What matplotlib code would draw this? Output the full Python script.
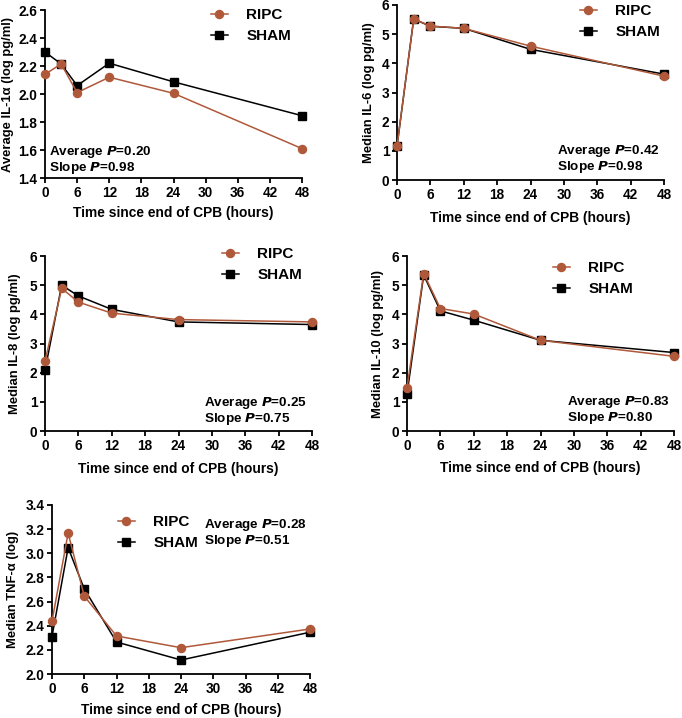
import matplotlib
matplotlib.use("Agg")
import matplotlib.pyplot as plt

plt.rcParams['font.family'] = ['Liberation Sans', 'DejaVu Sans']
plt.rcParams['font.weight'] = 'bold'
plt.rcParams['axes.labelweight'] = 'bold'

W, H = 682, 718
DPI = 100

hours = [0, 3, 6, 12, 24, 48]
xticks = [0, 6, 12, 18, 24, 30, 36, 42, 48]
series_names = ["RIPC", "SHAM"]

il1a_ripc = [2.14, 2.215, 2.01, 2.12, 2.005, 1.61]
il1a_sham = [2.30, 2.215, 2.06, 2.22, 2.087, 1.845]

il6_ripc = [1.16, 5.52, 5.28, 5.20, 4.59, 3.56]
il6_sham = [1.15, 5.52, 5.27, 5.20, 4.48, 3.63]

il8_ripc = [2.39, 4.89, 4.42, 4.04, 3.82, 3.74]
il8_sham = [2.08, 5.00, 4.63, 4.17, 3.74, 3.65]

il10_ripc = [1.48, 5.40, 4.20, 4.01, 3.11, 2.56]
il10_sham = [1.26, 5.35, 4.12, 3.80, 3.11, 2.69]

tnf_ripc = [2.437, 3.167, 2.645, 2.315, 2.218, 2.373]
tnf_sham = [2.31, 3.047, 2.705, 2.265, 2.116, 2.346]

ylabels = ["Average IL-1α (log pg/ml)", "Median IL-6 (log pg/ml)",
           "Median IL-8 (log pg/ml)", "Median IL-10 (log pg/ml)",
           "Median TNF-α (log)"]
avg_p = ["0.20", "0.42", "0.25", "0.83", "0.28"]
slope_p = ["0.98", "0.98", "0.75", "0.80", "0.51"]
xlabel = "Time since end of CPB (hours)"

RIPC_C = '#B0583A'
SHAM_C = '#000000'

fig = plt.figure(figsize=(W / DPI, H / DPI), dpi=DPI)

def fx(px):
    return px / W

def fy(py):
    return 1 - py / H

# panel geometry in pixels: left, right, top, bottom
panels = [
    dict(box=(45, 302, 10, 178), ylim=(1.4, 2.6), yt=[1.4, 1.6, 1.8, 2.0, 2.2, 2.4, 2.6], yfmt='{:.1f}',
         data=(il1a_ripc, il1a_sham), ylab_x=8, xlab_y=213,
         ann=(49, 152), leg=(211, 8)),
    dict(box=(397, 664, 5, 180), ylim=(0, 6), yt=[0, 1, 2, 3, 4, 5, 6], yfmt='{:d}',
         data=(il6_ripc, il6_sham), ylab_x=369, xlab_y=218,
         ann=(557, 151), leg=(580, 4)),
    dict(box=(45, 312, 256, 431), ylim=(0, 6), yt=[0, 1, 2, 3, 4, 5, 6], yfmt='{:d}',
         data=(il8_ripc, il8_sham), ylab_x=15, xlab_y=469,
         ann=(204, 403), leg=(222, 247)),
    dict(box=(407, 674, 256, 431), ylim=(0, 6), yt=[0, 1, 2, 3, 4, 5, 6], yfmt='{:d}',
         data=(il10_ripc, il10_sham), ylab_x=378, xlab_y=468,
         ann=(567, 402), leg=(553, 261)),
    dict(box=(52, 310, 505, 674), ylim=(2.0, 3.4), yt=[2.0, 2.2, 2.4, 2.6, 2.8, 3.0, 3.2, 3.4], yfmt='{:.1f}',
         data=(tnf_ripc, tnf_sham), ylab_x=13, xlab_y=710,
         ann=(204, 525), leg=(118, 515)),
]

for i, p in enumerate(panels):
    l, r, t, b = p['box']
    ax = fig.add_axes([fx(l), fy(b), (r - l) / W, (b - t) / H])
    ripc, sham = p['data']
    ax.plot(hours, sham, color=SHAM_C, lw=1.1, marker='s', ms=5.4,
            mec=SHAM_C, mfc=SHAM_C, clip_on=False, zorder=3, label=series_names[1])
    ax.plot(hours, ripc, color=RIPC_C, lw=1.1, marker='o', ms=5.8,
            mec=RIPC_C, mfc=RIPC_C, clip_on=False, zorder=4, label=series_names[0])
    ax.set_xlim(0, 48)
    ax.set_ylim(*p['ylim'])
    ax.set_xticks(xticks)
    ax.set_xticklabels([str(v) for v in xticks])
    ax.set_yticks(p['yt'])
    if p['yfmt'] == '{:d}':
        ax.set_yticklabels([str(int(v)) for v in p['yt']])
    else:
        ax.set_yticklabels([p['yfmt'].format(v) for v in p['yt']])
    for s in ['top', 'right']:
        ax.spines[s].set_visible(False)
    for s in ['left', 'bottom']:
        ax.spines[s].set_linewidth(1.3)
    ax.tick_params(axis='both', direction='out', length=3.5, width=1.3,
                   labelsize=9.8, pad=2)
    for lab in ax.get_xticklabels() + ax.get_yticklabels():
        lab.set_fontweight('bold')
    ax.set_ylabel(ylabels[i], fontsize=9.4, fontweight='bold')
    ax.yaxis.label.set_verticalalignment('center')
    ax.yaxis.set_label_coords(fx(p['ylab_x']), fy((t + b) / 2), transform=fig.transFigure)
    ax.set_xlabel(xlabel, fontsize=9.9, fontweight='bold')
    ax.xaxis.label.set_verticalalignment('center')
    ax.xaxis.set_label_coords(fx((l + r) / 2), fy(p['xlab_y']), transform=fig.transFigure)

    axx, ayy = p['ann']
    ax.text(fx(axx), fy(ayy), 'Average $\\bf{\\it{P}}$=' + avg_p[i], transform=fig.transFigure,
            fontsize=9.7, fontweight='bold', ha='left', va='center')
    ax.text(fx(axx), fy(ayy + 16), 'Slope $\\bf{\\it{P}}$=' + slope_p[i], transform=fig.transFigure,
            fontsize=9.7, fontweight='bold', ha='left', va='center')

    handles, labels = ax.get_legend_handles_labels()
    lx, ly = p['leg']
    ax.legend(handles[::-1], labels[::-1], loc='upper left',
              bbox_to_anchor=(fx(lx), fy(ly)), bbox_transform=fig.transFigure,
              frameon=False, handlelength=1.1, handletextpad=1.2,
              labelspacing=0.45, borderpad=0, borderaxespad=0,
              prop={'weight': 'bold', 'size': 11})

fig.savefig('out.png', dpi=DPI)
